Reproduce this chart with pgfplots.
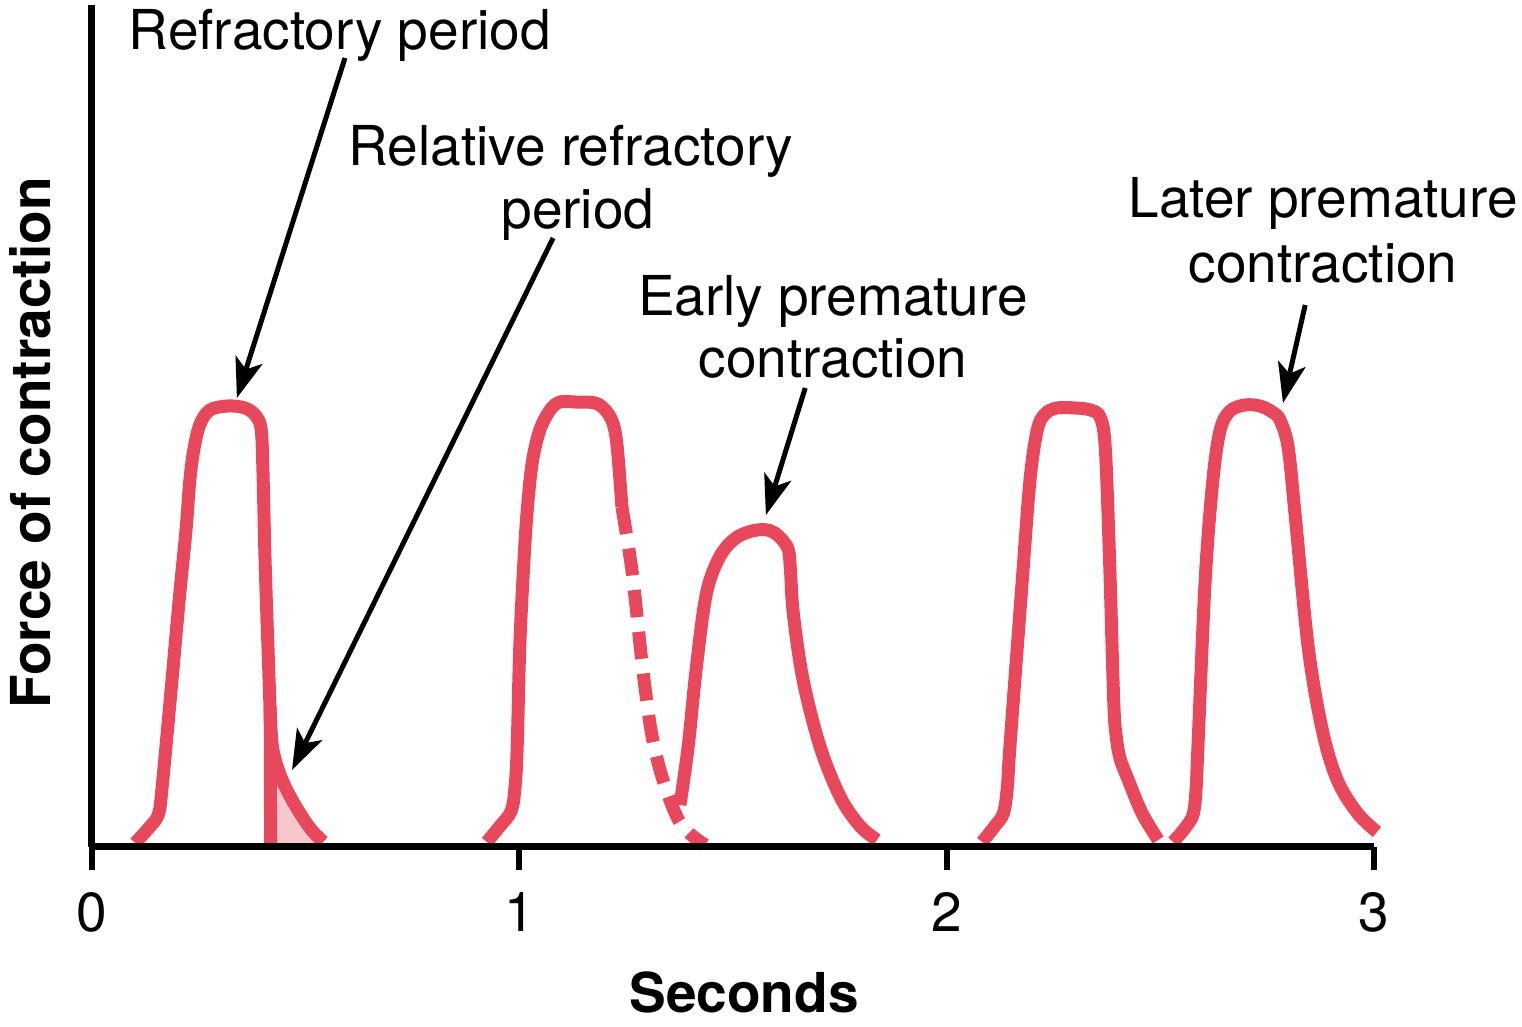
\documentclass[border=0pt]{standalone}
\usepackage{fontspec}
\setmainfont{TeX Gyre Heros}
\usepackage{pgfplots}
\pgfplotsset{compat=1.18}
\usetikzlibrary{arrows.meta}
\definecolor{twitch}{RGB}{232,72,92}
\definecolor{refr}{RGB}{246,200,204}
\newcommand{\lbl}{\fontsize{13.75}{16.5}\selectfont}

\begin{document}
\lbl
\begin{tikzpicture}
\useasboundingbox (-23pt,-45pt) rectangle (357.5pt,211.75pt);
\begin{axis}[
    at={(0,0)}, anchor=south west,
    scale only axis, width=320.5pt, height=210.5pt,
    xmin=0, xmax=3, ymin=0, ymax=8.42,
    clip=false, axis on top,
    axis lines*=left,
    axis line style={line width=1.75pt},
    xtick={0,1,2,3}, ytick=\empty,
    xtick align=outside, xtick pos=bottom,
    major tick length=5.75pt,
    xtick style={line width=1.5pt, black},
    xticklabel shift=15.5pt,
    xticklabel style={anchor=base},
    tick label style={font=\lbl},
    /pgf/number format/assume math mode=true,
    xlabel={\bfseries Seconds},
    ylabel={\bfseries Force of contraction},
    every axis x label/.style={at={(axis description cs:0.5087,-0.197)}, anchor=base, font=\lbl},
    every axis y label/.style={at={(axis description cs:-0.0483,0.480)}, rotate=90, anchor=center, font=\lbl},
    twitch line/.style={twitch, line width=3.25pt, smooth, tension=0.55, line join=round},
]
% relative refractory area
\addplot[refr, fill=refr, draw=none, smooth, tension=0.55] coordinates {
  (0.419,1.17)(0.426,0.92)(0.447,0.65)(0.475,0.42)(0.510,0.19)(0.541,0.05)
} \closedcycle;

% normal contraction
\addplot[twitch line] coordinates {
  (0.101,0.04)(0.133,0.19)(0.155,0.32)(0.163,0.55)(0.183,1.47)(0.204,2.47)
  (0.220,3.17)(0.229,3.67)(0.239,3.99)(0.253,4.23)(0.276,4.37)(0.318,4.41)
  (0.358,4.39)(0.384,4.31)(0.396,4.17)(0.400,3.77)(0.405,2.87)(0.412,1.97)
  (0.419,1.17)(0.427,0.90)(0.447,0.65)(0.475,0.42)(0.510,0.19)(0.541,0.05)
};
\addplot[twitch, line width=3.25pt] coordinates {(0.417,1.40)(0.418,0)};

% second contraction, relaxation interrupted
\addplot[twitch line] coordinates {
  (0.924,0.05)(0.955,0.21)(0.981,0.36)(0.990,0.60)(0.995,1.00)(1.001,2.00)
  (1.010,2.80)(1.018,3.34)(1.030,3.84)(1.048,4.17)(1.072,4.37)(1.095,4.45)
  (1.130,4.45)(1.177,4.44)(1.201,4.37)(1.219,4.24)(1.229,4.00)(1.240,3.40)
};
\addplot[twitch line, dash pattern=on 6.8pt off 3.7pt] coordinates {
  (1.240,3.40)(1.264,2.75)(1.285,1.92)(1.297,1.50)(1.311,1.10)(1.334,0.70)
  (1.369,0.30)(1.400,0.13)(1.435,0.02)
};

% early premature contraction
\addplot[twitch line] coordinates {
  (1.376,0.42)(1.395,1.00)(1.411,1.67)(1.430,2.34)(1.446,2.67)(1.474,2.94)
  (1.510,3.10)(1.556,3.17)(1.594,3.15)(1.627,3.00)(1.634,2.80)(1.641,2.34)
  (1.664,1.67)(1.704,1.00)(1.751,0.50)(1.797,0.21)(1.837,0.07)
};

% normal contraction
\addplot[twitch line] coordinates {
  (2.083,0.05)(2.113,0.21)(2.133,0.34)(2.142,0.60)(2.148,1.00)(2.177,2.67)
  (2.195,3.67)(2.212,4.17)(2.230,4.33)(2.258,4.39)(2.301,4.39)(2.336,4.37)
  (2.359,4.30)(2.371,4.00)(2.381,2.90)(2.391,1.45)(2.397,1.10)(2.406,0.88)
  (2.425,0.67)(2.457,0.34)(2.495,0.07)
};

% later premature contraction
\addplot[twitch line] coordinates {
  (2.530,0.05)(2.558,0.19)(2.577,0.33)(2.584,0.60)(2.588,1.00)(2.605,2.67)
  (2.623,3.67)(2.640,4.17)(2.663,4.36)(2.698,4.42)(2.733,4.41)(2.762,4.35)
  (2.780,4.27)(2.799,4.00)(2.815,3.34)(2.846,2.00)(2.879,1.17)(2.914,0.67)
  (2.961,0.34)(3.007,0.15)
};

% annotations
\node[anchor=base] at (axis cs:0.580,7.97) {Refractory period};
\node[anchor=base] at (axis cs:1.121,6.81) {Relative refractory};
\node[anchor=base] at (axis cs:1.137,6.18) {period};
\node[anchor=base] at (axis cs:1.734,5.31) {Early premature};
\node[anchor=base] at (axis cs:1.734,4.69) {contraction};
\node[anchor=base] at (axis cs:2.881,6.29) {Later premature};
\node[anchor=base] at (axis cs:2.881,5.64) {contraction};

\begin{scope}[line width=1.25pt, -{Stealth[length=10pt, width=7pt, inset=2.5pt]}]
\draw (axis cs:0.592,7.89) -- (axis cs:0.339,4.49);
\draw (axis cs:1.079,6.09) -- (axis cs:0.468,0.77);
\draw (axis cs:1.669,4.59) -- (axis cs:1.577,3.32);
\draw (axis cs:2.839,5.42) -- (axis cs:2.787,4.44);
\end{scope}
\end{axis}
\end{tikzpicture}
\end{document}
